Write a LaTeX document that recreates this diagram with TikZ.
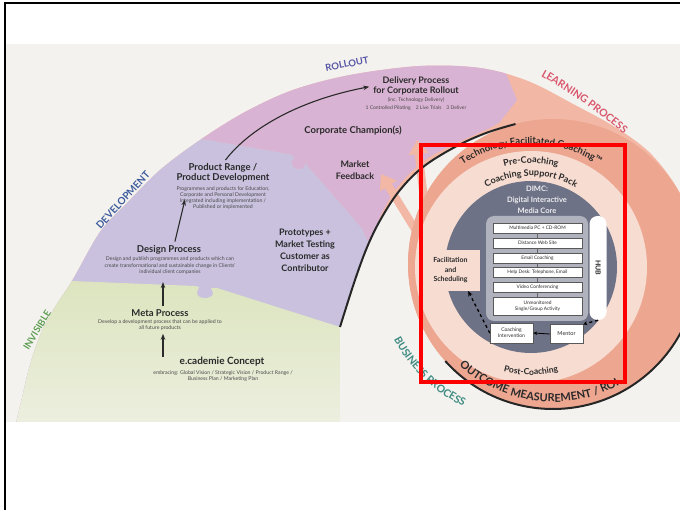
\documentclass[tikz,border=0pt]{standalone}
\usepackage{fontspec}
\setmainfont{Lato}
\usepackage{graphicx}
\usetikzlibrary{arrows.meta,decorations.text,calc}

\definecolor{scanbg}{HTML}{F4F2EE}
\definecolor{greenfill}{HTML}{DCE4BE}
\definecolor{greenfade}{HTML}{EEF0E3}
\definecolor{lavfill}{HTML}{C9C1DE}
\definecolor{pinkfill}{HTML}{D9B3D3}
\definecolor{salmonband}{HTML}{F2B8A5}
\definecolor{salmonring}{HTML}{EDA690}
\definecolor{lightring}{HTML}{F7DCD1}
\definecolor{slate}{HTML}{6E7286}
\definecolor{panelgray}{HTML}{B0B2BD}
\definecolor{devblue}{HTML}{3E5C9E}
\definecolor{invgreen}{HTML}{5E9E52}
\definecolor{rollblue}{HTML}{5656A6}
\definecolor{learnred}{HTML}{D9566C}
\definecolor{busteal}{HTML}{3E8A82}
\definecolor{textdark}{HTML}{2A2A2A}
\definecolor{annot}{HTML}{FF0000}

% outer edge of the spiral fan
\newcommand\fanedge{plot[smooth,tension=0.55] coordinates {(14,432) (22,398) (30,365) (41,333) (55,307) (72,281) (100,232) (127,203) (160,170) (200,140) (245,112) (293,90) (350,75) (420,66) (480,68) (528,81) (575,105) (615,127) (648,151) (672,180) (692,215)}}
% black spiral line that wraps into the coaching circle
\newcommand\spiralline{plot[smooth,tension=0.6] coordinates {(340,327) (355,280) (368,245) (382,217) (400,190) (423,167) (455,147) (486,133) (515.5,124)}}

\begin{document}
\begin{tikzpicture}[x=1pt,y=-1pt,
  ttl/.style={font=\bfseries\fontsize{9}{10.5}\selectfont, text=textdark, align=center, inner sep=0pt},
  tinytxt/.style={font=\fontsize{5.2}{6.5}\selectfont, text=textdark!85, align=center, inner sep=0pt},
  flowarrow/.style={-{Stealth[length=6pt,width=4.5pt]}, line width=1.1pt, draw=textdark},
  stackbox/.style={draw=black!65, fill=white, line width=0.5pt, minimum width=89pt, minimum height=10pt, inner sep=0pt, font=\fontsize{4.8}{5.6}\selectfont, text=textdark, align=center},
  sidelabel/.style={font=\bfseries\fontsize{9.5}{9.5}\selectfont, inner sep=0pt},
  fatarrow/.style={salmonband, line width=8pt, -{Triangle[width=19pt,length=14pt]}}
]
\useasboundingbox (0,0) rectangle (680,510);
\fill[white] (0,0) rectangle (680,510);

\begin{scope}
  \clip (6,45) rectangle (680,421);
  \fill[scanbg] (0,40) rectangle (690,430);

  % coloured phases of the fan
  \begin{scope}
    \clip \fanedge -- (715,215) -- (715,440) -- (10,440) -- cycle;
    \fill[salmonband] (0,0) rectangle (720,450);
    \fill[lavfill] (0,122) -- (150,128) -- (203,139) -- (290,154) -- (295,157) -- (292,162)
      .. controls (292,171) and (305,171) .. (305,163) -- (303,159) -- (308,166)
      -- (362,228) -- (371,247) -- (400,250) -- (400,440) -- (0,440) -- cycle;
    \fill[pinkfill] (0,0) -- (0,122) -- (150,128) -- (203,139) -- (290,154) -- (295,157) -- (292,162)
      .. controls (292,171) and (305,171) .. (305,163) -- (303,159) -- (308,166)
      -- (362,228) -- (371,247)
      -- plot[smooth,tension=0.6] coordinates {(371,247) (378,222) (390,198) (406,177) (428,158) (457,143) (490,128)}
      -- (500,122) -- (517,100) -- (502,64) -- (495,0) -- cycle;
    \shade[top color=greenfill, bottom color=greenfade] (0,279) -- (72,281) -- (195,286) -- (199,287) -- (197,292)
      .. controls (196,300) and (213,300) .. (213,293) -- (211,288) -- (217,288)
      -- (340,327) -- (346,440) -- (0,440) -- cycle;
  \end{scope}

  % open ground around the circle
  \fill[scanbg] \spiralline arc[start angle=255, end angle=0, radius=145] -- (715,264) -- (715,440) -- (340,440) -- cycle;

  % feedback arrows from the learning process
  \draw[fatarrow] (418,234) -- (381,174);
  \draw[fatarrow] (428,232) -- (417,140);

  % coaching circle
  \fill[salmonring] (553,264) circle[radius=145];
  \fill[lightring] (531,267) circle[radius=116];
  \fill[slate] (531,267) circle[radius=86];

  \draw[line width=2pt, black!85] \spiralline;
  \draw[line width=2pt, black!85] (553,264) ++(138:145) arc[start angle=138, end angle=-25, radius=145];
\end{scope}

% phase labels
\node[sidelabel, text=invgreen, rotate=59] (lblinv) at (37,330) {INVISIBLE};
\node[sidelabel, text=devblue, rotate=47.7, font=\bfseries\fontsize{10}{10}\selectfont] (lbldev) at (123,200) {DEVELOPMENT};
\node[sidelabel, text=rollblue, rotate=11] (lblroll) at (347,64) {ROLLOUT};
\path[decorate, decoration={text along path, text align=center,
  text={|\color{learnred}\bfseries\fontsize{10.5}{10.5}\selectfont|LEARNING PROCESS}}]
  (279,538) ++(289:531) arc[start angle=289, end angle=321, radius=531];
\path[decorate, decoration={text along path, text align=center,
  text={|\color{busteal}\bfseries\fontsize{10.5}{10.5}\selectfont|BUSINESS PROCESS}}]
  (531,267) ++(176:155) arc[start angle=176, end angle=92, radius=155];

% development stages
\node[ttl, font=\bfseries\fontsize{10}{11}\selectfont] (ecadT) at (222,362) {e.cademie Concept};
\node[tinytxt] (ecadD) at (223,376) {embracing: Global Vision / Strategic Vision / Product Range /\\Business Plan / Marketing Plan};
\node[ttl, font=\bfseries\fontsize{9.5}{10.5}\selectfont] (metaT) at (160,313) {Meta Process};
\node[tinytxt] (metaD) at (160,325) {Develop a development process that can be applied to\\all future products};
\node[ttl, font=\bfseries\fontsize{9.5}{10.5}\selectfont] (designT) at (169,250) {Design Process};
\node[tinytxt] (designD) at (170,266) {Design and publish programmes and products which can\\create transformational and sustainable change in Clients'\\individual client companies};
\node[ttl, font=\bfseries\fontsize{9.5}{10.5}\selectfont] (prodT) at (223,173) {Product Range /\\Product Development};
\node[tinytxt, font=\fontsize{5.2}{6}\selectfont] (prodD) at (223,198) {Programmes and products for Education,\\Corporate and Personal Development\\Integrated including implementation /\\Published or implemented};
\node[ttl] (delivT) at (416,86) {Delivery Process\\for Corporate Rollout};
\node[tinytxt, font=\fontsize{5}{7.5}\selectfont] (delivD) at (416,104) {(inc. Technology Delivery)\\1 Controlled Piloting\quad 2 Live Trials\quad 3 Deliver};
\node[ttl, font=\bfseries\fontsize{9.5}{10.5}\selectfont] (champ) at (353,131) {Corporate Champion(s)};
\node[ttl, font=\bfseries\fontsize{9}{12}\selectfont] (market) at (355,170) {Market\\Feedback};
\node[ttl, font=\bfseries\fontsize{9}{12}\selectfont] (proto) at (305,250) {Prototypes +\\Market Testing\\Customer as\\Contributor};

\coordinate (ecadfoot) at (163,357);
\draw[flowarrow, shorten >=3pt] (ecadfoot) -- (metaD.south -| ecadfoot);
\draw[flowarrow, shorten <=3pt, shorten >=7pt] ([xshift=3pt]metaT.north) -- ([xshift=-7pt]designD.south);
\draw[flowarrow, shorten <=4pt] ([xshift=5pt]designT.north) -- ([xshift=-38pt,yshift=10pt]prodD.south);
\draw[flowarrow, shorten <=4pt, shorten >=4pt] (prodT.north) .. controls (250,128) and (300,100) .. (delivT.west);

% coaching circle texts
\path[decorate, decoration={text along path, text align=center,
  text={|\color{textdark}\bfseries\fontsize{9.5}{9.5}\selectfont|Technology Facilitated Coaching™}}]
  (531,267) ++(195:123) arc[start angle=195, end angle=345, radius=123];
\path[decorate, decoration={text along path, text align=center,
  text={|\color{textdark}\bfseries\fontsize{9}{9}\selectfont|Pre-Coaching}}]
  (531,267) ++(215:104) arc[start angle=215, end angle=325, radius=104];
\path[decorate, decoration={text along path, text align=center,
  text={|\color{textdark}\bfseries\fontsize{9}{9}\selectfont|Coaching Support Pack}}]
  (531,267) ++(205:91) arc[start angle=205, end angle=335, radius=91];
\path[decorate, decoration={text along path, text align=center,
  text={|\color{textdark}\bfseries\fontsize{8.5}{8.5}\selectfont|Post-Coaching}}]
  (531,267) ++(140:108) arc[start angle=140, end angle=40, radius=108];
\path[decorate, decoration={text along path, text align=center,
  text={|\color{textdark}\bfseries\fontsize{11}{11}\selectfont|OUTCOME MEASUREMENT / ROI}}]
  (553,264) ++(152:138) arc[start angle=152, end angle=42, radius=138];

\node[font=\bfseries\fontsize{7.5}{11}\selectfont, text=white!88!slate, align=center, inner sep=0pt] (dimc) at (537,200) {DIMC:\\Digital Interactive\\Media Core};

% media core stack
\fill[panelgray, rounded corners=8pt] (486,216) rectangle (588,321);
\node[stackbox] (b1) at (537.5,228) {Multimedia PC + CD-ROM};
\node[stackbox] (b2) at (537.5,243) {Distance Web Site};
\node[stackbox] (b3) at (537.5,258) {Email Coaching};
\node[stackbox] (b4) at (537.5,272) {Help Desk: Telephone, Email};
\node[stackbox] (b5) at (537.5,287) {Video Conferencing};
\node[stackbox, minimum height=18pt] (b6) at (537.5,306) {Unmonitored\\Single/Group Activity};
\foreach \a/\b in {b1/b2,b2/b3,b3/b4,b4/b5,b5/b6}
  \draw[black!60, line width=0.6pt] (\a.south) -- (\b.north);

\node[fill=white, minimum width=17pt, minimum height=104pt, rounded corners=8pt, inner sep=0pt,
      font=\bfseries\fontsize{7}{7}\selectfont, text=textdark] (hub) at (598,268) {\rotatebox{-90}{HUB}};
\node[fill=lightring, minimum width=59pt, minimum height=41pt, inner sep=0pt, align=center,
      font=\bfseries\fontsize{7}{9.5}\selectfont, text=textdark] (facil) at (450.5,270.5) {Facilitation\\and\\Scheduling};
\node[stackbox, minimum width=43pt, minimum height=20pt, font=\fontsize{5}{6}\selectfont] (ci) at (511.5,333) {Coaching\\Intervention};
\node[stackbox, minimum width=33pt, minimum height=19pt, font=\fontsize{5.5}{6}\selectfont] (mentor) at (566.5,334) {Mentor};

\draw[-{Stealth[length=4pt,width=3.5pt]}, line width=0.8pt, black] (mentor.west) -- (ci.east);
\draw[dashed, line width=1.3pt, black, -{Stealth[length=5pt,width=4.5pt]}] (ci.west) -- ([xshift=-12pt]facil.south east);
\draw[dashed, line width=1.3pt, black, -{Stealth[length=4pt,width=4pt]}] (hub.south) -- (mentor.north east);

% highlight frame and page border
\draw[annot, line width=4pt] (420.5,145) rectangle (625,382.5);
\draw[line width=1.6pt, black] (5,512) -- (5,3) -- (682,3);
\end{tikzpicture}
\end{document}
